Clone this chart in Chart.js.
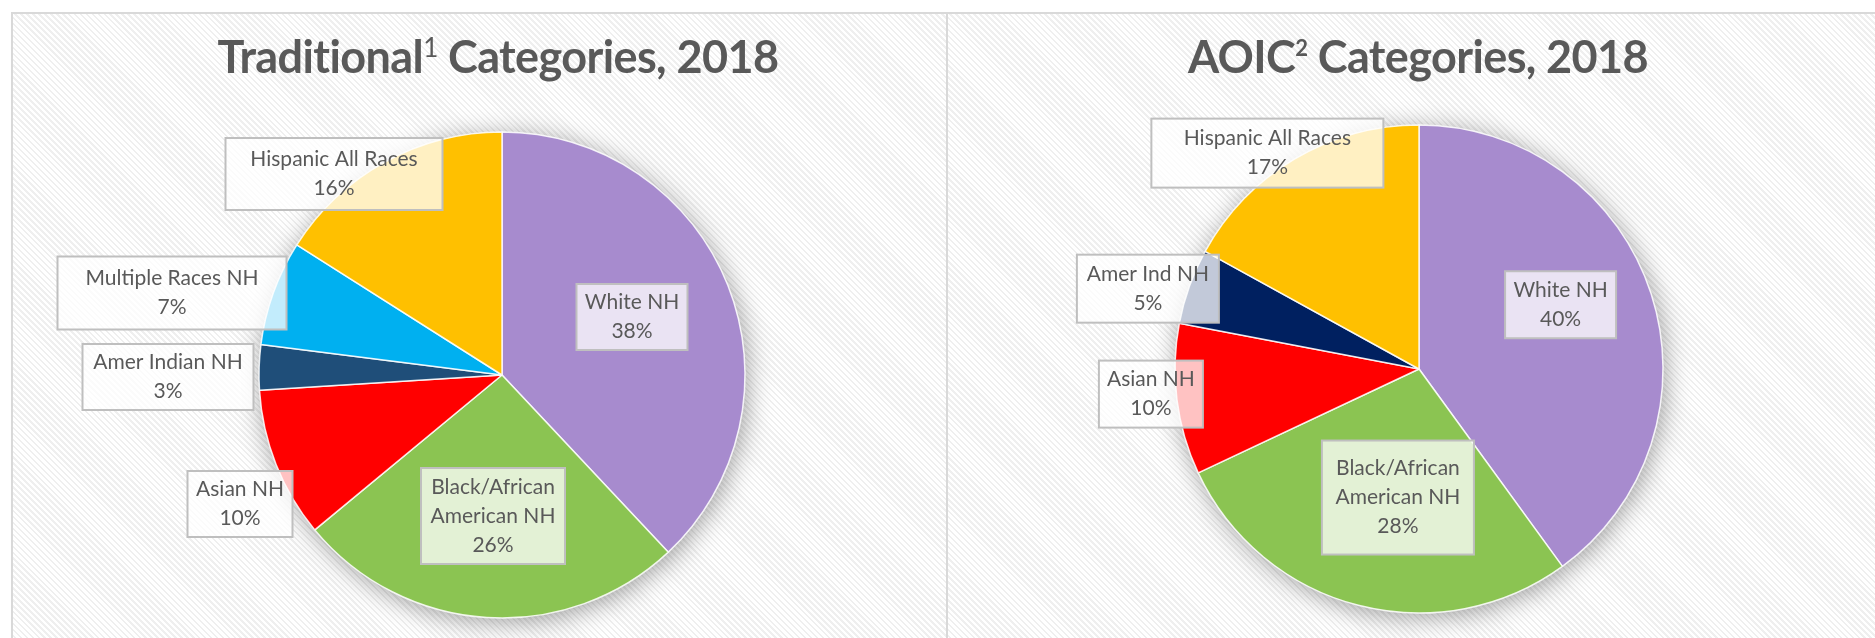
<!DOCTYPE html>
<html>
<head>
<meta charset="utf-8">
<script src="https://cdn.jsdelivr.net/npm/chart.js@4"></script>
<style>
  html, body { margin: 0; padding: 0; background: #fff; }
  body { width: 1875px; height: 638px; position: relative; overflow: hidden; font-family: Lato, "Open Sans", sans-serif; }
  .panel {
    position: absolute; top: 12px; height: 640px; box-sizing: border-box;
    border-top: 2px solid #d9d9d9; border-left: 2px solid #d9d9d9;
    background: repeating-linear-gradient(45deg, #ffffff 0px, #ffffff 2.4px, #efefef 2.4px, #efefef 4.2px);
  }
  #p1 { left: 11px; width: 937px; }
  #p2 { left: 946px; width: 940px; }
  canvas { position: absolute; top: 0; }
  .title {
    position: absolute; top: 30px; text-align: center; color: #595959;
    font-weight: 700; font-size: 45px; line-height: 52px; letter-spacing: -0.6px;
  }
  .title sup { font-size: 26px; vertical-align: 16px; line-height: 0; }
  #t1 sup { font-weight: 400; }
  #t2 sup { font-size: 22px; vertical-align: 17px; }
</style>
</head>
<body>
<div class="panel" id="p1"></div>
<div class="panel" id="p2"></div>
<canvas id="c1" width="948" height="638" style="left:0"></canvas>
<canvas id="c2" width="927" height="638" style="left:948px"></canvas>
<div class="title" id="t1" style="left:12px;width:972px">Traditional<sup>1</sup> Categories, 2018</div>
<div class="title" id="t2" style="left:948px;width:940px">AOIC<sup>2</sup> Categories, 2018</div>
<script>
// Traditional categories, 2018 (percent)
const tradLabels = ['White NH', ['Black/African', 'American NH'], 'Asian NH', 'Amer Indian NH', 'Multiple Races NH', 'Hispanic All Races'];
const tradValues = [38, 26, 10, 3, 7, 16];
const tradColors = ['#a78bce', '#8bc452', '#ff0000', '#1f4e79', '#00b0f0', '#ffc000'];

// AOIC categories, 2018 (percent)
const aoicLabels = ['White NH', ['Black/African', 'American NH'], 'Asian NH', 'Amer Ind NH', 'Hispanic All Races'];
const aoicValues = [40, 28, 10, 5, 17];
const aoicColors = ['#a78bce', '#8bc452', '#ff0000', '#002060', '#ffc000'];

// label boxes: offset from the pie centre (px at r=243) and box size
const tradBoxes = [
  { dx: 130, dy: -58, w: 111, h: 66 },
  { dx: -9, dy: 141, w: 144, h: 96 },
  { dx: -262, dy: 129, w: 105, h: 66 },
  { dx: -334, dy: 2, w: 171, h: 66 },
  { dx: -330, dy: -82, w: 229, h: 73 },
  { dx: -168, dy: -201, w: 217, h: 72 }
];
const aoicBoxes = [
  { dx: 141, dy: -64, w: 111, h: 67 },
  { dx: -21, dy: 128, w: 152, h: 114 },
  { dx: -267, dy: 25, w: 104, h: 67 },
  { dx: -270, dy: -80, w: 142, h: 68 },
  { dx: -151, dy: -215, w: 232, h: 69 }
];

const pieShadow = {
  id: 'pieShadow',
  beforeDatasetsDraw(chart) {
    const arc = chart.getDatasetMeta(0).data[0];
    const ctx = chart.ctx;
    ctx.save();
    ctx.shadowColor = 'rgba(0,0,0,0.38)';
    ctx.shadowBlur = 26;
    ctx.shadowOffsetX = 2;
    ctx.shadowOffsetY = 4;
    ctx.fillStyle = '#d0d0d0';
    ctx.beginPath();
    ctx.arc(arc.x, arc.y, arc.outerRadius, 0, Math.PI * 2);
    ctx.fill();
    ctx.restore();
  }
};

const boxLabels = {
  id: 'boxLabels',
  afterDatasetsDraw(chart, args, opts) {
    const ctx = chart.ctx;
    const meta = chart.getDatasetMeta(0);
    const values = chart.data.datasets[0].data;
    meta.data.forEach((arc, i) => {
      const b = opts.boxes[i];
      const s = arc.outerRadius / 243;
      const cx = arc.x + b.dx * s;
      const cy = arc.y + b.dy * s;
      const lab = chart.data.labels[i];
      const lines = (Array.isArray(lab) ? lab.slice() : [lab]);
      lines.push(values[i] + '%');
      ctx.save();
      ctx.fillStyle = 'rgba(255,255,255,0.76)';
      ctx.fillRect(cx - b.w / 2, cy - b.h / 2, b.w, b.h);
      ctx.strokeStyle = '#bfbfbf';
      ctx.lineWidth = 2;
      ctx.strokeRect(cx - b.w / 2, cy - b.h / 2, b.w, b.h);
      ctx.fillStyle = '#595959';
      ctx.font = '21px Lato, "Open Sans", sans-serif';
      ctx.textAlign = 'center';
      ctx.textBaseline = 'middle';
      const lh = 29;
      const y0 = cy - (lines.length - 1) * lh / 2;
      lines.forEach((t, k) => ctx.fillText(t, cx, y0 + k * lh));
      ctx.restore();
    });
  }
};

function makePie(id, labels, values, colors, boxes, pad, radius) {
  return new Chart(document.getElementById(id), {
    type: 'pie',
    data: {
      labels: labels,
      datasets: [{
        data: values,
        backgroundColor: colors,
        borderColor: 'rgba(255,255,255,0.85)',
        borderWidth: 1.5,
        radius: radius
      }]
    },
    options: {
      responsive: false,
      animation: false,
      layout: { padding: pad },
      plugins: {
        legend: { display: false },
        tooltip: { enabled: false },
        boxLabels: { boxes: boxes }
      }
    },
    plugins: [pieShadow, boxLabels]
  });
}

makePie('c1', tradLabels, tradValues, tradColors, tradBoxes,
  { left: 259, right: 203, top: 132, bottom: 20 }, 243);
makePie('c2', aoicLabels, aoicValues, aoicColors, aoicBoxes,
  { left: 227, right: 212, top: 125, bottom: 25 }, 244);
</script>
</body>
</html>
